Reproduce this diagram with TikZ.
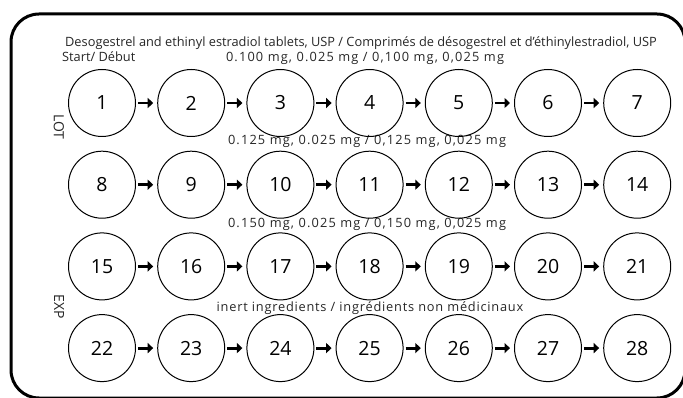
\documentclass[tikz,border=0pt]{standalone}
\usepackage{fontspec}
\setmainfont{Open Sans}
\usetikzlibrary{arrows.meta}
\tikzset{
  pill/.style={draw, circle, line width=1pt, minimum size=67pt, inner sep=0pt, font=\fontsize{19.5}{21}\selectfont},
  nextarrow/.style={line width=2.8pt, -{Triangle[length=5.5pt,width=10pt]}, shorten <=2pt, shorten >=4pt},
  doselabel/.style={font=\fontsize{12.8}{14}\selectfont, inner sep=0pt, text=black!85},
  spaced/.style={font=\fontsize{12.8}{14}\selectfont\addfontfeature{LetterSpace=9}}
}

\begin{document}
\begin{tikzpicture}[x=1pt,y=-1pt]
  \useasboundingbox (0,0) rectangle (683,398);
  % card outline
  \draw[line width=3pt, rounded corners=28pt] (11,14) rectangle (685,398);

  \node[doselabel] (title) at (361,43) {Desogestrel and ethinyl estradiol tablets, USP / Comprimés de désogestrel et d’éthinylestradiol, USP};
  \node[doselabel, anchor=west] (start) at (62,57) {Start/ Début};
  \node[doselabel, spaced] (dose1) at (365,58) {0.100 mg, 0.025 mg / 0,100 mg, 0,025 mg};
  \node[doselabel, spaced] (dose2) at (367,141) {0.125 mg, 0.025 mg / 0,125 mg, 0,025 mg};
  \node[doselabel, spaced] (dose3) at (367,224) {0.150 mg, 0.025 mg / 0,150 mg, 0,025 mg};
  \node[doselabel, font=\fontsize{12.8}{14}\selectfont\addfontfeature{LetterSpace=6}] (dose4) at (370,308) {inert ingredients / ingrédients non médicinaux};
  \node[doselabel, font=\fontsize{14}{16}\selectfont, rotate=-90] (lot) at (59,127) {LOT};
  \node[doselabel, font=\fontsize{14}{16}\selectfont, rotate=-90] (exp) at (59,307) {EXP};

  % tablets
  \foreach \n in {1,...,28} {
    \pgfmathtruncatemacro\row{(\n-1)/7}
    \pgfmathtruncatemacro\col{mod(\n-1,7)}
    \node[pill] (p\n) at (102+89.2*\col, 103+81.7*\row) {\n};
  }
  \foreach \r in {0,...,3}
    \foreach \c in {1,...,6} {
      \pgfmathtruncatemacro\a{7*\r+\c}
      \pgfmathtruncatemacro\b{\a+1}
      \draw[nextarrow] (p\a) -- (p\b);
    }
\end{tikzpicture}
\end{document}
